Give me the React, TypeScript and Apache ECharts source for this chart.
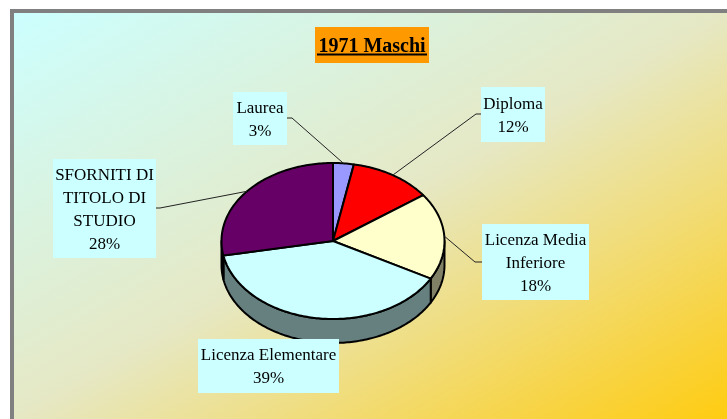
import React, { useEffect, useRef } from "react";
import * as echarts from "echarts";

const categories = [
  "Laurea",
  "Diploma",
  "Licenza Media\nInferiore",
  "Licenza Elementare",
  "SFORNITI DI\nTITOLO DI\nSTUDIO",
];
const values = [3, 12, 18, 39, 28];
const topColors = ["#9999FF", "#FF0000", "#FFFFCC", "#CCFFFF", "#660066"];
const sideColors = ["#4D4D80", "#800000", "#808066", "#668080", "#330033"];
const titleText = "1971 Maschi";

const FONT = '"Liberation Serif", "Times New Roman", serif';

export default function App() {
  const ref = useRef<HTMLDivElement>(null);
  useEffect(() => {
    if (!ref.current) return;
    const chart = echarts.init(ref.current, undefined, { renderer: "svg" });
    const cx = 333, cy = 241, rx = 111.5, ry = 78, depth = 24;
    const total = values.reduce((a, b) => a + b, 0);
    const starts: number[] = [];
    const ends: number[] = [];
    let acc = 0;
    values.forEach((v) => {
      starts.push((acc / total) * 360);
      acc += v;
      ends.push((acc / total) * 360);
    });
    const pt = (deg: number, dy = 0) => {
      const r = (deg * Math.PI) / 180;
      return [cx + rx * Math.sin(r), cy - ry * Math.cos(r) + dy];
    };
    const arc = (a0: number, a1: number, dy = 0) => {
      const pts: number[][] = [];
      const n = Math.max(2, Math.ceil(Math.abs(a1 - a0)));
      for (let k = 0; k <= n; k++) pts.push(pt(a0 + ((a1 - a0) * k) / n, dy));
      return pts;
    };
    const mid = (i: number) => pt((starts[i] + ends[i]) / 2);

    const labelBoxes = [
      { x: 233, y: 92, w: 54, h: 53 },
      { x: 481, y: 87, w: 64, h: 55 },
      { x: 482, y: 224, w: 107, h: 76 },
      { x: 198, y: 339, w: 141, h: 54 },
      { x: 53, y: 159, w: 103, h: 99 },
    ];
    const leaders: (number[][] | null)[] = [
      [[287, 118], [292, 118]],
      [[481, 114], [476, 114]],
      [[482, 262], [475, 262]],
      null,
      [[156, 208], [160, 208]],
    ];

    const graphics: any[] = [
      {
        type: "rect",
        z: -10,
        shape: { x: 14, y: 13, width: 713, height: 406 },
        style: {
          fill: {
            type: "linear", x: 0, y: 0, x2: 1, y2: 1,
            colorStops: [
              { offset: 0, color: "#CCFFFF" },
              { offset: 0.5, color: "#E6E8C4" },
              { offset: 1, color: "#FFCC11" },
            ],
          },
        },
        silent: true,
      },
      { type: "rect", z: -9, shape: { x: 10, y: 9, width: 717, height: 4 }, style: { fill: "#808080" }, silent: true },
      { type: "rect", z: -9, shape: { x: 10, y: 9, width: 4, height: 410 }, style: { fill: "#808080" }, silent: true },
      { type: "rect", z: 5, shape: { x: 315, y: 27, width: 114, height: 36 }, style: { fill: "#FF9900" }, silent: true },
      {
        type: "text", z: 6, x: 372, y: 45,
        style: { text: titleText, font: `bold 20px ${FONT}`, fill: "#000", textAlign: "center", textVerticalAlign: "middle" },
        silent: true,
      },
      { type: "line", z: 6, shape: { x1: 317, y1: 54.5, x2: 427, y2: 54.5 }, style: { stroke: "#000", lineWidth: 2 }, silent: true },
    ];
    categories.forEach((c, i) => {
      const b = labelBoxes[i];
      graphics.push({ type: "rect", z: 5, shape: { x: b.x, y: b.y, width: b.w, height: b.h }, style: { fill: "#CCFFFF" }, silent: true });
      graphics.push({
        type: "text", z: 6, x: b.x + b.w / 2, y: b.y + b.h / 2,
        style: {
          text: `${c}\n${values[i]}%`, font: `17px ${FONT}`, fill: "#000",
          textAlign: "center", textVerticalAlign: "middle", lineHeight: 23,
        },
        silent: true,
      });
      const l = leaders[i];
      if (l) {
        graphics.push({
          type: "polyline", z: 4, shape: { points: [...l, mid(i)] },
          style: { stroke: "#222", lineWidth: 1, fill: "none" }, silent: true,
        });
      }
    });

    chart.setOption({
      animation: false,
      graphic: graphics,
      series: [
        {
          type: "custom", coordinateSystem: "none", z: 2, silent: true,
          data: values,
          renderItem: (params: any) => {
            const i = params.dataIndex;
            const a0 = Math.max(starts[i], 90), a1 = Math.min(ends[i], 270);
            if (a1 <= a0) return { type: "group", children: [] };
            const pts = [...arc(a0, a1), ...arc(a0, a1, depth).reverse()];
            return {
              type: "polygon", shape: { points: pts },
              style: { fill: sideColors[i], stroke: "#000", lineWidth: 2, lineJoin: "round" },
            };
          },
        },
        {
          type: "custom", coordinateSystem: "none", z: 3, silent: true,
          data: values,
          renderItem: (params: any) => {
            const i = params.dataIndex;
            const pts = [[cx, cy], ...arc(starts[i], ends[i])];
            return {
              type: "polygon", shape: { points: pts },
              style: { fill: topColors[i], stroke: "#000", lineWidth: 2, lineJoin: "round" },
            };
          },
        },
      ],
    });
    return () => chart.dispose();
  }, []);
  return <div ref={ref} style={{ position: "fixed", left: 0, top: 0, width: 727, height: 419 }} />;
}
